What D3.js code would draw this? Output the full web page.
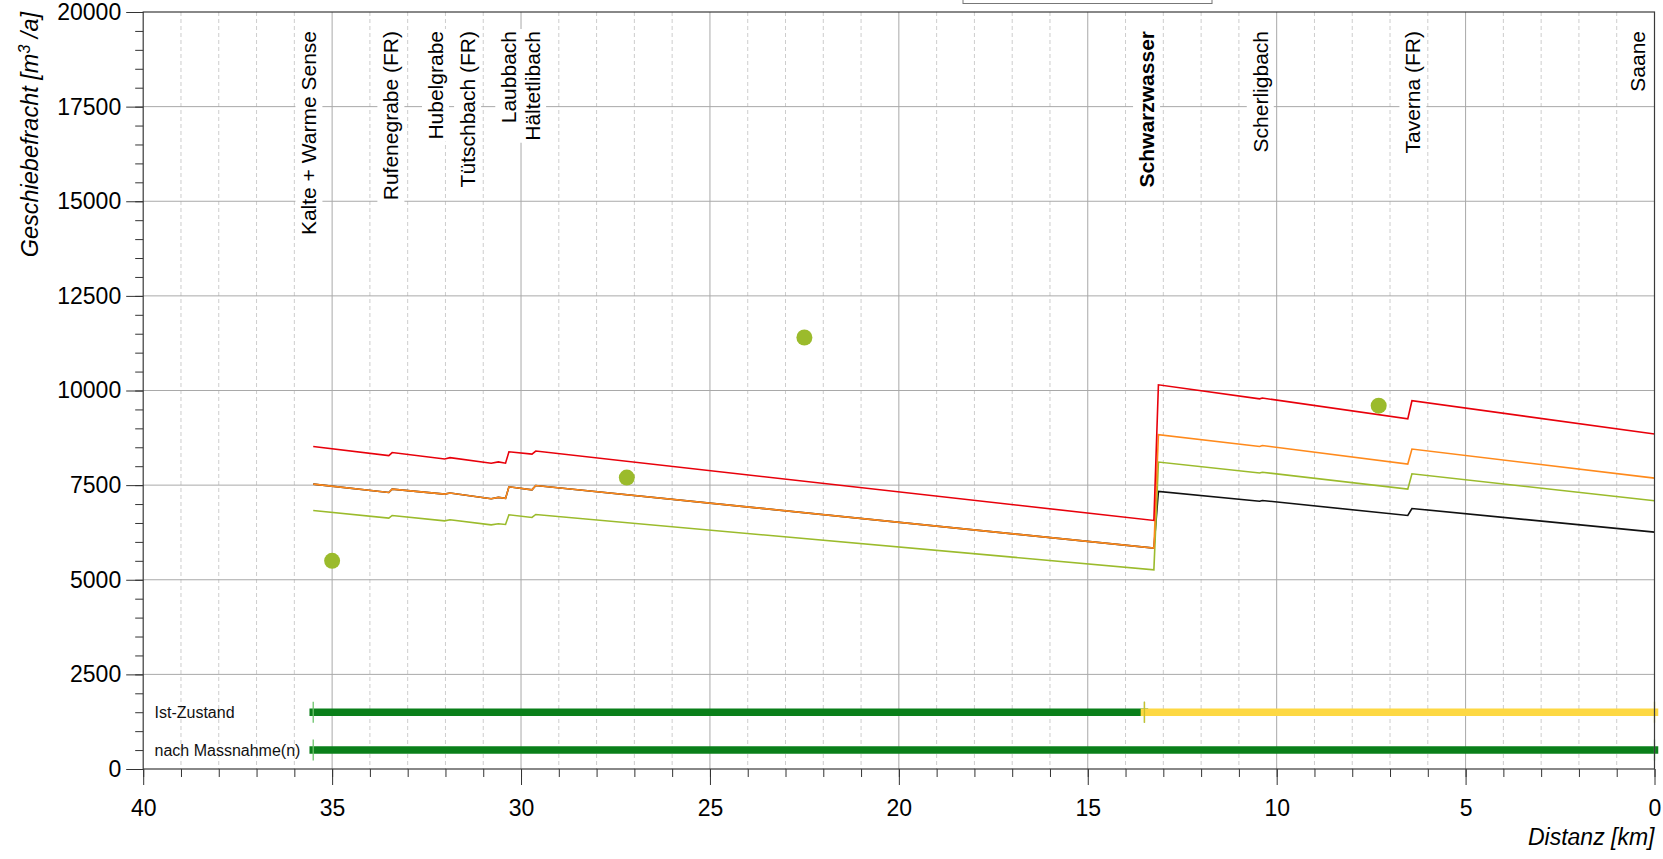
<!DOCTYPE html>
<html>
<head>
<meta charset="utf-8">
<script src="https://cdn.jsdelivr.net/npm/d3@7"></script>
<style>
  body { margin: 0; background: #fff; }
  svg { font-family: "Liberation Sans", Arial, Helvetica, sans-serif; }
</style>
</head>
<body>
<div id="chart"></div>
<script>
// river km of the line vertices (shared by all four series)
const lineKm = [35.5, 33.5, 33.41, 32.02, 31.88, 30.79, 30.6, 30.41, 30.32, 29.71, 29.61,
                13.25, 13.13, 10.45, 10.38, 6.53, 6.42, 0];
const redValues    = [8520, 8280, 8360, 8190, 8225, 8080, 8115, 8080, 8380, 8320, 8400,
                      6566, 10150, 9780, 9800, 9250, 9730, 8850];
const orangeValues = [7527, 7306, 7395, 7263, 7290, 7139, 7175, 7150, 7456, 7377, 7491,
                      5835, 8831, 8520, 8545, 8056, 8453, 7686];
const greenValues  = [6830, 6628, 6698, 6557, 6585, 6451, 6480, 6460, 6716, 6645, 6724,
                      5262, 8109, 7820, 7840, 7395, 7800, 7086];
const blackValues  = [7527, 7306, 7395, 7263, 7290, 7139, 7175, 7150, 7456, 7377, 7491,
                      5835, 7332, 7075, 7095, 6697, 6883, 6258];

// measured loads
const pointKm = [35.0, 27.2, 22.5, 7.3];
const pointValues = [5500, 7700, 11400, 9600];

// tributaries
const tribNames = ["Kalte + Warme Sense", "Rufenegrabe (FR)", "Hubelgrabe", "Tütschbach (FR)",
                   "Laubbach", "Hältetlibach", "Schwarzwasser", "Scherligbach", "Taverna (FR)", "Saane"];
const tribKm = [35.61, 33.44, 32.26, 31.41, 30.32, 29.69, 13.44, 10.43, 6.39, 0.45];
const tribBold = ["Schwarzwasser"];

// state bars
const barRows = ["Ist-Zustand", "nach Massnahme(n)"];
const barRowValue = [1500, 500];
const segRow   = ["Ist-Zustand", "Ist-Zustand", "nach Massnahme(n)"];
const segFrom  = [35.5, 13.5, 35.5];
const segTo    = [13.5, 0, 0];
const segState = ["good", "medium", "good"];

const xTicksMajor = d3.range(0, 41, 5);
const yTicksMajor = d3.range(0, 20001, 2500);

const width = 1663, height = 859;
const plot = {left: 143.2, right: 1654.5, top: 12, bottom: 769};

const x = d3.scaleLinear().domain([40, 0]).range([plot.left, plot.right]);
const y = d3.scaleLinear().domain([0, 20000]).range([plot.bottom, plot.top]);

const stateColor = d3.scaleOrdinal().domain(["good", "medium"]).range(["#0a7f1a", "#fdd843"]);
const stateTick = d3.scaleOrdinal().domain(["good", "medium"]).range(["#6cc46c", "#cbbf2c"]);

const svg = d3.select("#chart").append("svg")
    .attr("width", width)
    .attr("height", height);

// legend box (cut at the top)
svg.append("rect")
    .attr("x", 963).attr("y", -30)
    .attr("width", 249).attr("height", 33.5)
    .attr("fill", "#fff")
    .attr("stroke", "#777");

// grid
const grid = svg.append("g");
grid.selectAll(".vminor")
    .data(d3.range(1, 40).filter(d => d % 5 !== 0))
    .enter().append("line")
    .attr("x1", d => x(d)).attr("x2", d => x(d))
    .attr("y1", plot.top).attr("y2", plot.bottom)
    .attr("stroke", "#cdcdcd")
    .attr("stroke-dasharray", "4,3");
grid.selectAll(".vmajor")
    .data(xTicksMajor.filter(d => d > 0 && d < 40))
    .enter().append("line")
    .attr("x1", d => x(d)).attr("x2", d => x(d))
    .attr("y1", plot.top).attr("y2", plot.bottom)
    .attr("stroke", "#a9a9a9");
grid.selectAll(".hmajor")
    .data(yTicksMajor.filter(d => d > 0 && d < 20000))
    .enter().append("line")
    .attr("x1", plot.left).attr("x2", plot.right)
    .attr("y1", d => y(d)).attr("y2", d => y(d))
    .attr("stroke", "#a9a9a9");

// tributary labels with white boxes
const labels = svg.append("g");
tribNames.forEach((name, i) => {
    const lg = labels.append("g")
        .attr("transform", `translate(${x(tribKm[i])},31) rotate(-90)`);
    const t = lg.append("text")
        .attr("text-anchor", "end")
        .attr("dy", "0.35em")
        .style("font-size", "21px")
        .style("font-weight", tribBold.includes(name) ? "bold" : "normal")
        .text(name);
    const bb = t.node().getBBox();
    lg.insert("rect", "text")
        .attr("x", bb.x - 2).attr("y", bb.y - 2)
        .attr("width", bb.width + 4).attr("height", bb.height + 4)
        .attr("fill", "#fff");
});

// state bars
const bars = svg.append("g");
segRow.forEach((row, i) => {
    const yy = y(barRowValue[barRows.indexOf(row)]);
    bars.append("line")
        .attr("x1", x(segFrom[i])).attr("x2", x(segTo[i]))
        .attr("y1", yy).attr("y2", yy)
        .attr("stroke", stateColor(segState[i]))
        .attr("stroke-width", 7.5)
        .attr("stroke-linecap", "square");
    [segFrom[i], segTo[i]].forEach(k => {
        bars.append("line")
            .attr("x1", x(k)).attr("x2", x(k))
            .attr("y1", yy - 10.5).attr("y2", yy + 10.5)
            .attr("stroke", stateTick(segState[i]))
            .attr("stroke-width", 1.3);
    });
});
barRows.forEach((row, i) => {
    bars.append("text")
        .attr("x", x(39.7))
        .attr("y", y(barRowValue[i]))
        .attr("dy", "0.35em")
        .style("font-size", "16px")
        .style("fill", "#111")
        .text(row);
});

// lines
const line = d3.line()
    .x(d => x(d[0]))
    .y(d => y(d[1]));
const series = [
    {values: blackValues, color: "#111111"},
    {values: greenValues, color: "#9bbb2c"},
    {values: orangeValues, color: "#ff8a1c"},
    {values: redValues, color: "#e8000b"}
];
series.forEach(s => {
    svg.append("path")
        .datum(lineKm.map((k, i) => [k, s.values[i]]))
        .attr("fill", "none")
        .attr("stroke", s.color)
        .attr("stroke-width", 1.6)
        .attr("d", line);
});

// points
svg.append("g").selectAll("circle")
    .data(pointKm.map((k, i) => [k, pointValues[i]]))
    .enter().append("circle")
    .attr("cx", d => x(d[0]))
    .attr("cy", d => y(d[1]))
    .attr("r", 8)
    .attr("fill", "#9bbb2c");

// axes
function styleAxis(g) {
    g.selectAll(".tick line").attr("stroke", "#333");
    g.selectAll(".tick text").style("font-size", "23px").attr("fill", "#000");
    g.select(".domain").remove();
}
svg.append("g")
    .attr("transform", `translate(0,${plot.bottom})`)
    .call(d3.axisBottom(x).tickValues(d3.range(0, 41)).tickSize(8).tickFormat(""))
    .call(styleAxis);
svg.append("g")
    .attr("transform", `translate(0,${plot.bottom})`)
    .call(d3.axisBottom(x).tickValues(xTicksMajor).tickSize(16).tickPadding(14.7))
    .call(styleAxis);
svg.append("g")
    .attr("transform", `translate(${plot.left},0)`)
    .call(d3.axisLeft(y).tickValues(d3.range(0, 20001, 500)).tickSize(8).tickFormat(""))
    .call(styleAxis);
svg.append("g")
    .attr("transform", `translate(${plot.left},0)`)
    .call(d3.axisLeft(y).tickValues(yTicksMajor).tickSize(17).tickPadding(5).tickFormat(d3.format("d")))
    .call(styleAxis);

// frame
svg.append("rect")
    .attr("x", plot.left).attr("y", plot.top)
    .attr("width", plot.right - plot.left).attr("height", plot.bottom - plot.top)
    .attr("fill", "none")
    .attr("stroke", "#3a3a3a")
    .attr("stroke-width", 1.2);

// axis titles
const yTitle = svg.append("text")
    .attr("transform", "translate(38,12) rotate(-90)")
    .attr("text-anchor", "end")
    .style("font-size", "23.5px")
    .style("font-style", "italic");
yTitle.append("tspan").text("Geschiebefracht [m");
yTitle.append("tspan").attr("baseline-shift", "super").style("font-size", "16px").text("3");
yTitle.append("tspan").text(" /a]");

svg.append("text")
    .attr("x", plot.right)
    .attr("y", 845)
    .attr("text-anchor", "end")
    .style("font-size", "23px")
    .style("font-style", "italic")
    .text("Distanz [km]");
</script>
</body>
</html>
